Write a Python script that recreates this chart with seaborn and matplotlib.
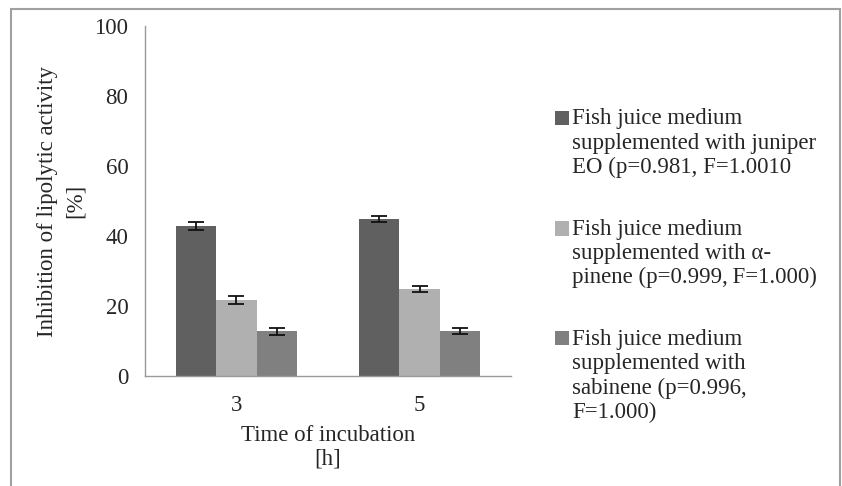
import numpy as np
import pandas as pd
import matplotlib
matplotlib.use("Agg")
import matplotlib.pyplot as plt
from matplotlib.patches import Rectangle, Patch
import seaborn as sns

# data
times = ["3", "5"]
series = [
    "Fish juice medium\nsupplemented with juniper\nEO (p=0.981, F=1.0010",
    "Fish juice medium\nsupplemented with \u03b1-\npinene (p=0.999,\u2009F=1.000)",
    "Fish juice medium\nsupplemented with\nsabinene (p=0.996,\nF=1.000)",
]
juniper = [42.8, 44.9]
pinene = [21.8, 24.8]
sabinene = [12.8, 12.8]
juniper_err = [1.1, 0.8]
pinene_err = [1.1, 0.8]
sabinene_err = [1.0, 0.8]
colors = ["#606060", "#b0b0b0", "#808080"]

values = [juniper, pinene, sabinene]
errors = [juniper_err, pinene_err, sabinene_err]
df = pd.DataFrame({
    "time": times * 3,
    "series": np.repeat(series, len(times)),
    "value": juniper + pinene + sabinene,
})

sns.set_style("white")
plt.rcParams["font.family"] = ["Liberation Serif", "DejaVu Serif"]
axis_col = "#999999"
fs = 16.5

fig = plt.figure(figsize=(8.42, 4.86), dpi=100)
ax = fig.add_axes([0.1722, 0.2263, 0.4347, 0.7202])

sns.barplot(data=df, x="time", y="value", hue="series", hue_order=series,
            order=times, palette=colors, width=0.66, saturation=1,
            errorbar=None, legend=False, linewidth=0, ax=ax)

# error bars placed on the bars seaborn drew
for cont, err in zip(ax.containers, errors):
    xs = [b.get_x() + b.get_width() / 2 for b in cont]
    ys = [b.get_height() for b in cont]
    ax.errorbar(xs, ys, yerr=err, fmt="none", ecolor="#111111",
                elinewidth=1.3, capsize=6, capthick=1.3)

ax.set_ylim(0, 100)
ax.set_xlim(-0.5, 1.5)
ax.set_yticks([0, 20, 40, 60, 80, 100])
ax.set_xticks([0, 1])
ax.set_xticklabels(times)
ax.set_xticks([-0.5, 0.5, 1.5], minor=True)
ax.tick_params(axis="x", which="major", length=0, labelsize=fs, pad=14)
ax.tick_params(axis="x", which="minor", length=5, color=axis_col, width=1)
ax.tick_params(axis="y", length=5, color=axis_col, width=1, labelsize=fs, pad=7)
for s in ["top", "right"]:
    ax.spines[s].set_visible(False)
for s in ["left", "bottom"]:
    ax.spines[s].set_color(axis_col)
    ax.spines[s].set_linewidth(1)

ax.set_xlabel("Time of incubation\n[h]", fontsize=fs, labelpad=6, linespacing=1.2)
ax.set_ylabel("Inhibition of lipolytic activity\n[%]", fontsize=fs,
              labelpad=6.5, linespacing=1.4)

handles = [Patch(facecolor=c, edgecolor="none") for c in colors]
leg = fig.legend(handles, series, loc="upper left", bbox_to_anchor=(0.659, 0.777),
                 frameon=False, fontsize=fs, handlelength=0.6, handleheight=0.6,
                 handletextpad=0.15, labelspacing=1.78, borderaxespad=0,
                 borderpad=0)

# move each square up so it sits beside the first line of its label
line_pt = fs * 1.2 * 0.92
for h, lab in zip(leg.legend_handles, series):
    n = lab.count("\n") + 1
    h.set_y(h.get_y() + (n - 1) / 2 * line_pt)

# outer frame of the original figure
fig.add_artist(Rectangle((11 / 842, -0.05), 829 / 842, 0.05 + 477 / 486,
                         transform=fig.transFigure, fill=False,
                         edgecolor="#a0a0a0", linewidth=1.5))

fig.savefig("out.png", dpi=100)
